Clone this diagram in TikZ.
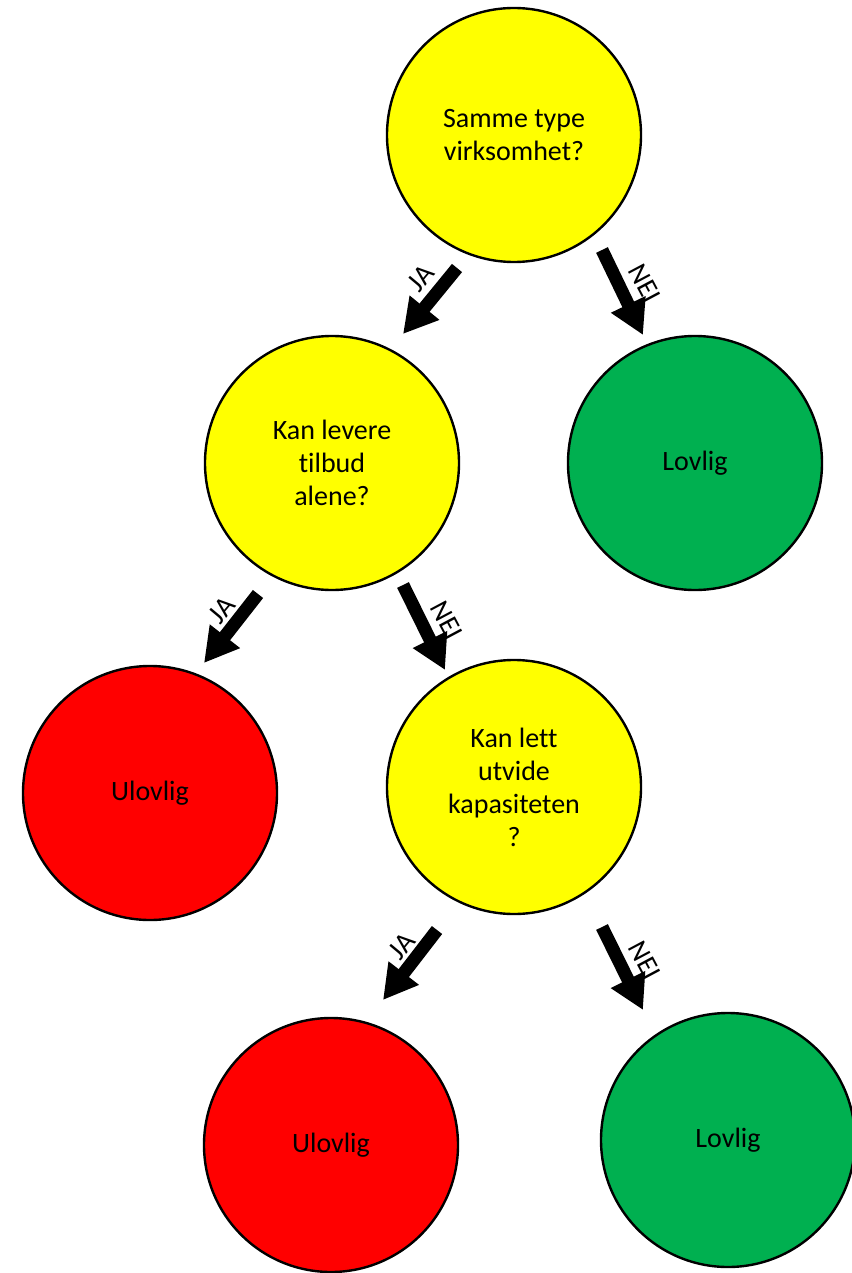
\documentclass[tikz,border=0pt]{standalone}
\usepackage{fontspec}
\setmainfont{Carlito}[Ligatures=CommonOff]
\usetikzlibrary{arrows.meta}
\definecolor{gul}{RGB}{255,255,0}
\definecolor{gronn}{RGB}{0,176,80}
\definecolor{rod}{RGB}{255,0,0}

\begin{document}
\begin{tikzpicture}[x=0.5pt, y=-0.5pt,
  sirkel/.style={draw, circle, line width=1.2pt, minimum size=127pt, inner sep=0pt,
    align=center, font=\fontsize{14}{16.5}\selectfont},
  pil/.style={line width=6.5pt, -{Triangle[width=18pt,length=17pt]}},
  svar/.style={font=\fontsize{14}{16}\selectfont, inner sep=0pt}]
\useasboundingbox (0,0) rectangle (851,1273);
%\draw [help lines, step=50] (0,0) grid (851,1273);
\node [sirkel, fill=gul] (spm1) at (514,135) {Samme type\\virksomhet?};
\node [sirkel, fill=gul] (spm2) at (332,463) {Kan levere\\tilbud\\alene?};
\node [sirkel, fill=gronn] (lov1) at (695,463) {Lovlig};
\node [sirkel, fill=rod] (ulov1) at (150,793) {Ulovlig};
\node [sirkel, fill=gul] (spm3) at (514,787) {Kan lett\\utvide\\kapasiteten\\?};
\node [sirkel, fill=rod] (ulov2) at (331,1145) {Ulovlig};
\node [sirkel, fill=gronn] (lov2) at (728,1140) {Lovlig};
% piler
\coordinate (ja1a) at (457,268);
\coordinate (ja1b) at (403,334);
\coordinate (nei1a) at (602,250);
\coordinate (nei1b) at (643,335);
\coordinate (ja2a) at (258,594);
\coordinate (ja2b) at (204,663);
\coordinate (nei2a) at (403,585);
\coordinate (nei2b) at (445,670);
\coordinate (ja3a) at (437,930);
\coordinate (ja3b) at (383,1000);
\coordinate (nei3a) at (602,927);
\coordinate (nei3b) at (643,1010);
\draw [pil] (ja1a) -- (ja1b);
\draw [pil] (nei1a) -- (nei1b);
\draw [pil] (ja2a) -- (ja2b);
\draw [pil] (nei2a) -- (nei2b);
\draw [pil] (ja3a) -- (ja3b);
\draw [pil] (nei3a) -- (nei3b);
\node [svar, rotate=50] (ja1) at (421,278) {JA};
\node [svar, rotate=-62] (nei1) at (645,283) {NEI};
\node [svar, rotate=50] (ja2) at (222,610) {JA};
\node [svar, rotate=-62] (nei2) at (447,620) {NEI};
\node [svar, rotate=50] (ja3) at (402,946) {JA};
\node [svar, rotate=-62] (nei3) at (645,960) {NEI};
\end{tikzpicture}
\end{document}
